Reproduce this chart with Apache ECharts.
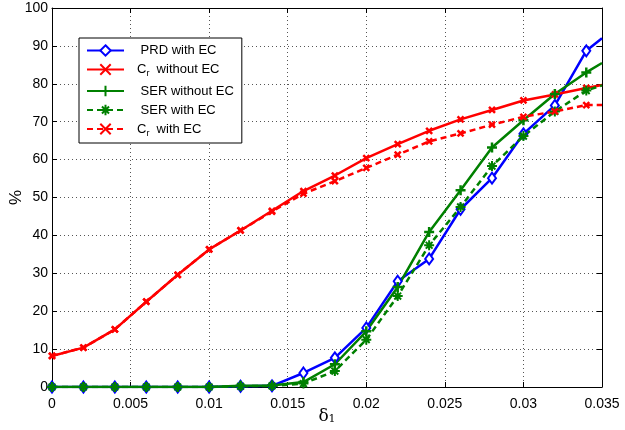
<!DOCTYPE html>
<html><head><meta charset="utf-8">
<script src="https://cdn.jsdelivr.net/npm/echarts@6/dist/echarts.min.js"></script>
<style>html,body{margin:0;padding:0;background:#fff}#c{width:625px;height:430px}</style>
</head><body><div id="c"></div>
<script>
const xValues = [0,0.002,0.004,0.006,0.008,0.010,0.012,0.014,0.016,0.018,0.020,0.022,0.024,0.026,0.028,0.030,0.032,0.034,0.035];
const prdWithEC   = [0,0,0,0,0,0,0.2,0.3,3.7,7.7,15.6,27.9,33.8,46.9,55.1,66.8,74.3,88.7,92.0];
const crWithoutEC = [8.2,10.4,15.2,22.5,29.6,36.3,41.3,46.5,51.7,55.8,60.4,64.1,67.6,70.6,73.1,75.6,77.2,78.9,79.7];
const serWithoutEC= [0,0,0,0,0,0,0.3,0.4,1.3,6.0,14.7,26.4,40.9,51.9,63.2,70.4,77.3,83.0,85.5];
const serWithEC   = [0,0,0,0,0,0,0.2,0.3,0.9,4.2,12.5,24.0,37.4,47.5,58.3,66.2,72.7,78.2,79.6];
const crWithEC    = [8.2,10.4,15.2,22.5,29.6,36.3,41.3,46.3,51.0,54.3,57.8,61.3,64.8,66.9,69.2,71.3,72.7,74.4,74.4];
const seriesNames = ['PRD with EC','Cr without EC','SER without EC','SER with EC','Cr with EC'];
const xTickFmt = v => String(parseFloat(Number(v).toFixed(3)));

const FONT = '"Liberation Sans", Arial, Helvetica, sans-serif';
const X_PATH = 'path://M0,0L10,10M10,0L0,10';
const PLUS_PATH = 'path://M5,0L5,10M0,5L10,5';
const STAR_PATH = 'path://M5,0L5,10M0,5L10,5M1.6,1.6L8.4,8.4M8.4,1.6L1.6,8.4';

function mk(name, ys, color, dashed, symbol, size, bw) {
  const last = xValues.length - 1;
  return {
    name, type: 'line',
    data: xValues.map((x, i) => i === last ? {value: [x, ys[i]], symbol: 'none'} : [x, ys[i]]),
    symbol, symbolSize: size, symbolKeepAspect: true,
    lineStyle: {color, width: 2.5, type: dashed ? [6, 4] : 'solid'},
    itemStyle: {color, borderColor: color, borderWidth: bw},
    emphasis: {disabled: true},
    animation: false
  };
}

const chart = echarts.init(document.getElementById('c'), null, {renderer: 'canvas'});
const sub = {t: {fontSize: 13, fontFamily: FONT, color: '#000'}, s: {fontSize: 9, fontFamily: FONT, color: '#000', padding: [9,0,0,0]}, sp: {width: 8}};
chart.setOption({
  backgroundColor: '#fff',
  textStyle: {fontFamily: FONT},
  grid: {left: 52, right: 23, top: 8, bottom: 43, show: false, containLabel: false, outerBoundsMode: 'none'},
  legend: {
    orient: 'vertical', left: 79, top: 38,
    backgroundColor: '#fff', borderColor: '#000', borderWidth: 1,
    padding: [6, 8, 5, 7], itemWidth: 37, itemHeight: 13, itemGap: 6,
    data: seriesNames,
    textStyle: {fontFamily: FONT, fontSize: 13, color: '#000', rich: sub},
    formatter: function (n) {
      if (n.indexOf('Cr ') === 0) return '{sp|}{t|C}{s|r}{t|  ' + n.slice(3) + '}';
      return '{sp|}{t| ' + n + '}';
    }
  },
  xAxis: [{
    type: 'value', min: 0, max: 0.035, interval: 0.005, position: 'bottom',
    axisLine: {show: true, onZero: false, lineStyle: {color: '#000', width: 1}},
    axisTick: {show: true, inside: true, length: 5, lineStyle: {color: '#000'}},
    axisLabel: {formatter: xTickFmt, color: '#000', fontSize: 14, margin: 10, fontFamily: FONT},
    splitLine: {show: true, lineStyle: {color: '#555', type: [1, 3], width: 1}},
    name: '{d|δ}{o|1}', nameLocation: 'middle', nameGap: 21, nameMoveOverlap: false,
    nameTextStyle: {rich: {d: {fontSize: 17, fontFamily: '"DejaVu Serif", serif', color: '#000'}, o: {fontSize: 11, fontFamily: '"DejaVu Serif", serif', color: '#000', padding: [5,0,0,0]}}}
  }, {
    type: 'value', min: 0, max: 0.035, interval: 0.005, position: 'top',
    axisLine: {show: true, onZero: false, lineStyle: {color: '#000', width: 1}},
    axisTick: {show: true, inside: true, length: 5, lineStyle: {color: '#000'}},
    axisLabel: {show: false}, splitLine: {show: false}
  }],
  yAxis: [{
    type: 'value', min: 0, max: 100, interval: 10, position: 'left',
    axisLine: {show: true, onZero: false, lineStyle: {color: '#000', width: 1}},
    axisTick: {show: true, inside: true, length: 5, lineStyle: {color: '#000'}},
    axisLabel: {color: '#000', fontSize: 14, margin: 4, fontFamily: FONT},
    splitLine: {show: true, lineStyle: {color: '#555', type: [1, 3], width: 1}},
    name: '%', nameLocation: 'middle', nameGap: 27, nameRotate: 90, nameMoveOverlap: false,
    nameTextStyle: {fontSize: 17, color: '#000', fontFamily: FONT}
  }, {
    type: 'value', min: 0, max: 100, interval: 10, position: 'right',
    axisLine: {show: true, onZero: false, lineStyle: {color: '#000', width: 1}},
    axisTick: {show: true, inside: true, length: 5, lineStyle: {color: '#000'}},
    axisLabel: {show: false}, splitLine: {show: false}
  }],
  series: [
    mk(seriesNames[0], prdWithEC, '#0000ff', false, 'emptyDiamond', [8, 11], 2),
    mk(seriesNames[1], crWithoutEC, '#ff0000', false, X_PATH, 6, 2.5),
    mk(seriesNames[2], serWithoutEC, '#008000', false, PLUS_PATH, 10, 2.5),
    mk(seriesNames[3], serWithEC, '#008000', true, STAR_PATH, 10, 2),
    mk(seriesNames[4], crWithEC, '#ff0000', true, X_PATH, 6, 2.5)
  ]
});
</script>
</body></html>
